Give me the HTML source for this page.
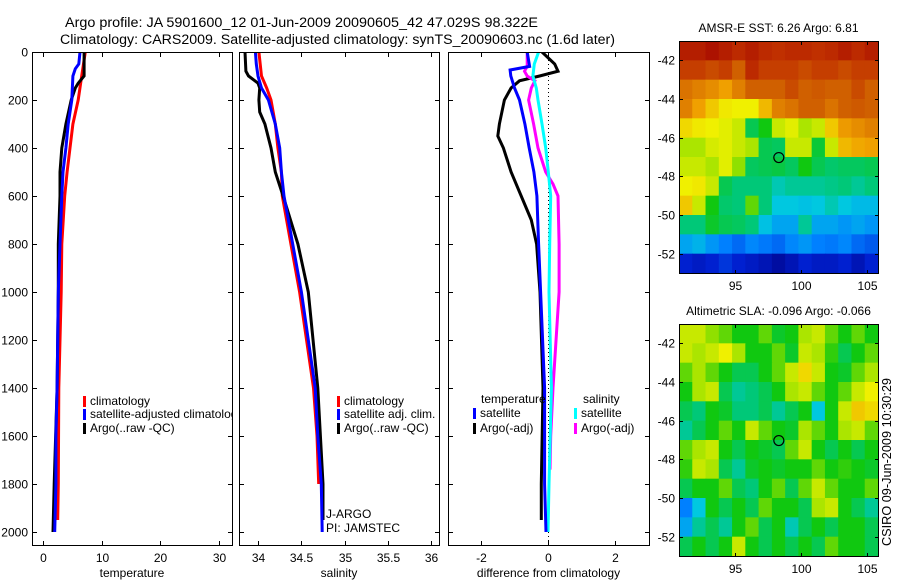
<!DOCTYPE html>
<html><head><meta charset="utf-8"><style>
body{margin:0;background:#fff;}
svg{display:block;font-family:"Liberation Sans",Arial,sans-serif;}
</style></head><body>
<svg id="fig" width="900" height="580" viewBox="0 0 900 580" xmlns="http://www.w3.org/2000/svg">
<rect width="900" height="580" fill="#fff"/>
<text x="65" y="27" font-size="13.5" textLength="473" lengthAdjust="spacingAndGlyphs">Argo profile: JA 5901600_12 01-Jun-2009 20090605_42 47.029S 98.322E</text>
<text x="60" y="44" font-size="13.5" textLength="555" lengthAdjust="spacingAndGlyphs">Climatology: CARS2009. Satellite-adjusted climatology: synTS_20090603.nc (1.6d later)</text>
<g id="plots"></g>
<text transform="translate(891,546) rotate(-90)" font-size="12.5" textLength="168" lengthAdjust="spacingAndGlyphs">CSIRO 09-Jun-2009 10:30:29</text>
</svg>
<script>
// ---- data ----
const tDepth   = [0,100,200,300,400,500,600,800,1000,1400,1800,1950];
const tClim    = [7.2,6.6,6.0,5.1,4.6,4.1,3.7,3.2,3.1,2.7,2.6,2.5];
const tSatDepth= [0,50,70,100,200,300,400,500,600,800,1000,1400,1600,1800,2000];
const tSat     = [6.3,6.1,5.5,5.1,4.9,4.3,3.9,3.4,3.2,2.9,2.6,2.4,2.2,2.2,2.0];
const tArgoDepth=[0,100,130,150,200,300,400,500,600,800,1000,1400,1800,2000];
const tArgo    = [7.0,7.0,6.0,5.5,4.8,3.9,3.2,2.9,2.9,2.6,2.6,2.4,1.9,1.7];

const sClimDepth=[0,100,150,200,300,400,500,600,800,1000,1400,1600,1800];
const sClim    = [34.01,34.04,34.10,34.15,34.20,34.23,34.27,34.28,34.38,34.48,34.64,34.68,34.70];
const sSatDepth= [0,50,100,150,200,300,400,500,600,800,1000,1400,1600,1800,2000];
const sSat     = [33.97,33.98,34.0,34.04,34.12,34.20,34.25,34.27,34.30,34.40,34.50,34.66,34.69,34.73,34.74];
const sArgoDepth=[0,80,100,130,150,200,250,300,400,500,600,800,1000,1400,1600,1800,1950];
const sArgo    = [33.85,33.86,33.89,34.0,34.02,34.01,34.02,34.08,34.15,34.20,34.29,34.46,34.58,34.69,34.72,34.75,34.75];

const dTSatDepth=[0,60,75,100,150,200,300,400,500,600,800,1400,1800,2000];
const dTSat    = [-0.62,-0.55,-1.13,-1.11,-1.0,-0.85,-0.69,-0.56,-0.42,-0.33,-0.28,-0.1,-0.1,-0.06];
const dTArgoDepth=[0,50,80,100,120,150,200,300,350,400,500,600,700,800,1000,1400,1800,1950];
const dTArgo   = [-0.18,0.2,0.3,-0.25,-0.85,-1.1,-1.3,-1.45,-1.5,-1.33,-1.1,-0.8,-0.5,-0.34,-0.24,-0.15,-0.2,-0.2];
const dSSatDepth=[0,50,100,150,200,300,400,500,600,800,1000,1400,1800,2000];
const dSSat    = [-0.28,-0.41,-0.45,-0.35,-0.3,-0.18,-0.07,0.01,0.08,0.05,0.03,0.1,0.03,0.0];
const dSArgoDepth=[0,60,80,100,120,150,200,300,400,500,550,600,800,1000,1400,1600,1740];
const dSArgo   = [-0.62,-0.62,-0.7,-0.62,-0.39,-0.5,-0.58,-0.43,-0.3,-0.07,0.15,0.3,0.33,0.33,0.15,0.08,0.06];

const depthTicks=[0,200,400,600,800,1000,1200,1400,1600,1800,2000];
const tTicks=[0,10,20,30];
const sTicks=[34,34.5,35,35.5,36];
const sTickLabels=["34","34.5","35","35.5","36"];
const dTicks=[-2,0,2];
const lonTicks=[95,100,105];
const latTicks=[-42,-44,-46,-48,-50,-52];

const sstGrid=[
[.95,.95,.97,.95,.93,.95,.93,.92,.93,.93,.92,.93,.95,.93,.95],
[.9,.9,.88,.9,.85,.93,.9,.9,.9,.88,.9,.9,.88,.9,.9],
[.82,.8,.78,.75,.8,.85,.85,.85,.88,.85,.86,.85,.85,.88,.85],
[.8,.75,.7,.66,.65,.65,.72,.8,.82,.85,.85,.82,.85,.86,.85],
[.68,.66,.65,.64,.62,.45,.5,.62,.64,.6,.62,.7,.76,.78,.8],
[.6,.6,.63,.64,.62,.6,.45,.44,.62,.62,.47,.62,.72,.74,.75],
[.62,.62,.6,.64,.58,.44,.45,.46,.44,.5,.45,.43,.44,.44,.45],
[.65,.66,.62,.45,.42,.42,.42,.38,.4,.4,.4,.41,.42,.4,.42],
[.7,.62,.5,.43,.42,.55,.42,.35,.35,.34,.35,.38,.35,.33,.33],
[.42,.42,.48,.45,.44,.42,.34,.3,.3,.4,.3,.3,.28,.3,.28],
[.3,.32,.28,.25,.22,.26,.24,.22,.26,.28,.25,.24,.26,.22,.2],
[.12,.1,.12,.15,.12,.1,.08,.05,.08,.12,.1,.1,.12,.08,.12]];
const slaGrid=[
[.62,.62,.58,.55,.5,.5,.55,.48,.5,.6,.62,.55,.5,.55,.5],
[.62,.6,.62,.65,.6,.5,.5,.55,.48,.62,.6,.52,.45,.5,.55],
[.55,.6,.55,.5,.45,.45,.5,.55,.62,.68,.62,.5,.48,.55,.6],
[.5,.6,.62,.45,.4,.42,.45,.5,.6,.62,.55,.5,.55,.62,.65],
[.45,.42,.5,.48,.42,.42,.45,.4,.45,.5,.35,.5,.62,.7,.68],
[.4,.45,.5,.55,.5,.62,.55,.5,.48,.6,.55,.5,.6,.62,.55],
[.55,.6,.62,.5,.45,.5,.48,.45,.55,.62,.5,.45,.5,.45,.5],
[.52,.62,.6,.45,.4,.48,.5,.48,.5,.5,.55,.5,.52,.5,.48],
[.45,.5,.5,.55,.45,.42,.5,.55,.45,.55,.62,.55,.5,.5,.55],
[.25,.35,.5,.45,.5,.45,.55,.5,.5,.45,.6,.62,.5,.45,.4],
[.3,.4,.45,.4,.5,.55,.45,.5,.38,.45,.5,.45,.5,.5,.45],
[.45,.5,.45,.5,.62,.5,.45,.5,.45,.5,.45,.55,.5,.5,.45]];
const argoLon=98.322, argoLat=-47.029;

// ---- drawing ----
const NS='http://www.w3.org/2000/svg';
const root=document.getElementById('plots');
function mk(tag,attrs,parent){const e=document.createElementNS(NS,tag);for(const k in attrs)e.setAttribute(k,attrs[k]);(parent||root).appendChild(e);return e;}
const Y0=52,Y1=545;
const yD=d=>Y0+d*0.24;
const xT=v=>43+v*5.87;
const xS=v=>258+(v-34)*86.7;
const xDf=v=>548+v*33.5;

function frame(name,x0,x1,xt,xticks,xlabels,ylabels,xtitle){
  const g=mk('g',{});
  
  
  const r=mk('rect',{x:x0+.5,y:Y0+.5,width:x1-x0,height:Y1-Y0,fill:'none',stroke:'#000','stroke-width':1},g);
  
  
  depthTicks.forEach(d=>{
    const y=Math.round(yD(d))+.5;
    mk('line',{x1:x0,x2:x0+5,y1:y,y2:y,stroke:'#000'},g);
    mk('line',{x1:x1-4,x2:x1+1,y1:y,y2:y,stroke:'#000'},g);
    if(ylabels){const t=mk('text',{x:x0-4,y:y+4,'font-size':12,'text-anchor':'end'},g);t.textContent=d;
      
      }
  });
  xticks.forEach((v,i)=>{
    const x=Math.round(xt(v))+.5;
    mk('line',{x1:x,x2:x,y1:Y1-4,y2:Y1+1,stroke:'#000'},g);
    mk('line',{x1:x,x2:x,y1:Y0,y2:Y0+5,stroke:'#000'},g);
    const t=mk('text',{x:x,y:562,'font-size':12,'text-anchor':'middle'},g);t.textContent=xlabels[i];
    
    
  });
  const t=mk('text',{x:(x0+x1)/2,y:577,'font-size':12,'text-anchor':'middle'},g);t.textContent=xtitle;
  
  
}
frame('temperature-panel',32,232,xT,tTicks,tTicks.map(String),true,'temperature');
frame('salinity-panel',239,439,xS,sTicks,sTickLabels,false,'salinity');
frame('difference-panel',448,649,xDf,dTicks,dTicks.map(String),false,'difference from climatology');
// zero dotted
const z=mk('line',{x1:548.5,x2:548.5,y1:Y0,y2:Y1,stroke:'#000','stroke-dasharray':'1,3'});



function clip(id,x0,x1){const c=mk('clipPath',{id:id});mk('rect',{x:x0+1,y:Y0+1,width:x1-x0-1,height:Y1-Y0-1},c);}
clip('c1',32,232);clip('c2',239,439);clip('c3',448,649);
function series(name,depths,vals,xf,color,cid){
  let pts=[];
  for(let i=0;i<depths.length;i++){pts.push(xf(vals[i]).toFixed(1)+','+yD(depths[i]).toFixed(1));}
  const p=mk('polyline',{points:pts.join(' '),fill:'none',stroke:color,'stroke-width':3,'stroke-linejoin':'miter','clip-path':'url(#'+cid+')'});
  
  
}
series('temp-climatology-line',tDepth,tClim,xT,'#f00','c1');
series('temp-argo-line',tArgoDepth,tArgo,xT,'#000','c1');
series('temp-satellite-line',tSatDepth,tSat,xT,'#00f','c1');
series('sal-climatology-line',sClimDepth,sClim,xS,'#f00','c2');
series('sal-argo-line',sArgoDepth,sArgo,xS,'#000','c2');
series('sal-satellite-line',sSatDepth,sSat,xS,'#00f','c2');
series('diff-temp-argo-line',dTArgoDepth,dTArgo,xDf,'#000','c3');
series('diff-sal-argo-line',dSArgoDepth,dSArgo,xDf,'#f0f','c3');
series('diff-sal-satellite-line',dSSatDepth,dSSat,xDf,'#0ff','c3');
series('diff-temp-satellite-line',dTSatDepth,dTSat,xDf,'#00f','c3');

function legend(name,x,y,color,label,cid){
  const g=mk('g',{'clip-path':cid?'url(#'+cid+')':''});
  
  
  mk('rect',{x:x,y:y-9,width:3,height:11,fill:color},g);
  const t=mk('text',{x:x+7,y:y,'font-size':12},g);t.textContent=label;
}
legend('legend-climatology',83,405,'#f00','climatology','c1');
legend('legend-satellite-adjusted',83,418,'#00f','satellite-adjusted climatology','c1');
legend('legend-argo',83,432,'#000','Argo(..raw -QC)','c1');
legend('legend-sal-climatology',337,405,'#f00','climatology','c2');
legend('legend-sal-satellite',337,418,'#00f','satellite adj. clim.','c2');
legend('legend-sal-argo',337,432,'#000','Argo(..raw -QC)','c2');
function txt(name,x,y,s){const t=mk('text',{x:x,y:y,'font-size':12});t.textContent=s;
  
  }
txt('legend-temperature-heading',481,403,'temperature');
txt('legend-salinity-heading',583,403,'salinity');
legend('legend-diff-temp-satellite',473,417,'#00f','satellite');
legend('legend-diff-temp-argo',473,432,'#000','Argo(-adj)');
legend('legend-diff-sal-satellite',574,417,'#0ff','satellite');
legend('legend-diff-sal-argo',574,432,'#f0f','Argo(-adj)');
txt('j-argo-label',326,518,'J-ARGO');
txt('pi-label',326,532,'PI: JAMSTEC');

// ---- maps ----
const stops=[[0,[0,0,128]],[.12,[0,32,208]],[.25,[0,128,255]],[.35,[0,200,224]],[.42,[0,200,120]],[.5,[16,200,16]],[.58,[144,224,0]],[.65,[240,240,0]],[.75,[240,160,0]],[.85,[208,96,0]],[.92,[192,48,0]],[1,[160,0,0]]];
function cmap(v){for(let i=1;i<stops.length;i++){if(v<=stops[i][0]){const a=stops[i-1],b=stops[i],f=(v-a[0])/(b[0]-a[0]);return 'rgb('+a[1].map((c,j)=>Math.round(c+(b[1][j]-c)*f)).join(',')+')';}}return 'rgb(160,0,0)';}
function map(name,grid,top,title){
  const x0=679,x1=878,y0=top,y1=top+232;
  const xL=lon=>x0+(lon-90.76)*13.2;
  const yL=lat=>y0+(-41-lat)*19.33;
  const g=mk('g',{});
  
  
  const rows=grid.length,cols=grid[0].length,cw=(x1-x0)/cols,ch=(y1-y0)/rows;
  grid.forEach((row,r)=>row.forEach((v,c)=>{
    mk('rect',{x:(x0+c*cw).toFixed(2),y:(y0+r*ch).toFixed(2),width:(cw+.6).toFixed(2),height:(ch+.6).toFixed(2),fill:cmap(v)},g);
  }));
  mk('rect',{x:x0+.5,y:y0+.5,width:x1-x0,height:y1-y0,fill:'none',stroke:'#000'},g);
  lonTicks.forEach(l=>{const x=Math.round(xL(l))+.5;
    mk('line',{x1:x,x2:x,y1:y0,y2:y0+4,stroke:'#000'},g);mk('line',{x1:x,x2:x,y1:y1-3,y2:y1+1,stroke:'#000'},g);
    const t=mk('text',{x:x,y:y1+17,'font-size':12,'text-anchor':'middle'},g);t.textContent=l;});
  latTicks.forEach(l=>{const y=Math.round(yL(l))+.5;
    mk('line',{x1:x0,x2:x0+4,y1:y,y2:y,stroke:'#000'},g);mk('line',{x1:x1-3,x2:x1+1,y1:y,y2:y,stroke:'#000'},g);
    const t=mk('text',{x:x0-4,y:y+4,'font-size':12,'text-anchor':'end'},g);t.textContent=l;});
  const c=mk('circle',{cx:xL(argoLon),cy:yL(argoLat),r:5,fill:'none',stroke:'#000','stroke-width':1.2},g);
  
  
  const t=mk('text',{x:(x0+x1)/2,y:y0-9,'font-size':12,'text-anchor':'middle'},g);t.textContent=title;
  
  
}
map('sst-map',sstGrid,41,'AMSR-E SST: 6.26 Argo: 6.81');
map('sla-map',slaGrid,324,'Altimetric SLA: -0.096 Argo: -0.066');
</script>
</body></html>
